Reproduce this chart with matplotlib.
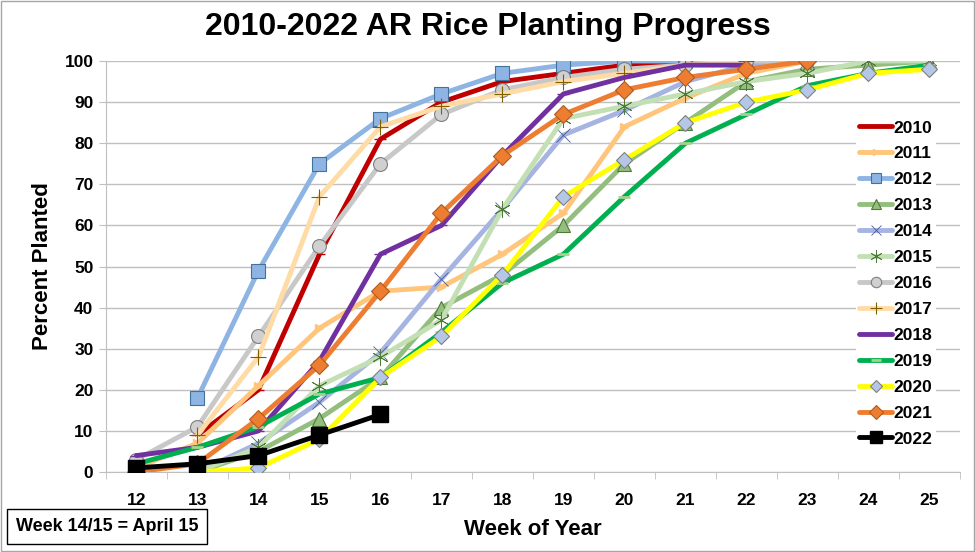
import numpy as np
import matplotlib
matplotlib.use("Agg")
import matplotlib.pyplot as plt
from matplotlib.patches import Rectangle

plt.rcParams['font.family'] = ['Liberation Sans', 'DejaVu Sans']

weeks = [12, 13, 14, 15, 16, 17, 18, 19, 20, 21, 22, 23, 24, 25]
nan = np.nan

# percent planted by week, one list per year (nan = not reported)
y2010 = [nan, 9, 20, 53, 81, 90, 95, 97, 99, 100, nan, nan, nan, nan]
y2011 = [1, 7, 21, 35, 44, 45, 53, 63, 84, 91, 97, 100, nan, nan]
y2012 = [nan, 18, 49, 75, 86, 92, 97, 99, 100, 100, nan, nan, nan, nan]
y2013 = [nan, 0, 5, 13, 23, 40, 48, 60, 75, 85, 95, 98, 99, 100]
y2014 = [nan, 0, 7, 17, 29, 47, 64, 82, 88, 95, 99, 100, nan, nan]
y2015 = [nan, 0, 6, 21, 28, 37, 64, 86, 89, 92, 95, 97, 100, 100]
y2016 = [3, 11, 33, 55, 75, 87, 93, 96, 98, 99, 100, 100, nan, nan]
y2017 = [nan, 9, 28, 67, 84, 89, 92, 95, 97, 99, 100, nan, nan, nan]
y2018 = [4, 6, 10, 27, 53, 60, 77, 92, 96, 99, 99, nan, nan, nan]
y2019 = [2, 6, 11, 19, 23, 34, 46, 53, 67, 80, 87, 94, 97, 99]
y2020 = [nan, 0, 1, 8, 23, 33, 48, 67, 76, 85, 90, 93, 97, 98]
y2021 = [0, 2, 13, 26, 44, 63, 77, 87, 93, 96, 98, 100, nan, nan]
y2022 = [1, 2, 4, 9, 14, nan, nan, nan, nan, nan, nan, nan, nan, nan]

series = [
    ('2010', y2010, dict(color='#C00000', marker='_', ms=9, mec='#C00000')),
    ('2011', y2011, dict(color='#FFC57A', marker='>', ms=6, mfc='#FFC57A', mec='#FFC57A')),
    ('2012', y2012, dict(color='#8EB4E3', marker='s', ms=10, mfc='#8EB4E3', mec='#41719C', mew=0.8)),
    ('2013', y2013, dict(color='#93BE7D', marker='^', ms=10, mfc='#93BE7D', mec='#4E7A3A', mew=0.8)),
    ('2014', y2014, dict(color='#A5B4E0', marker='x', ms=10, mec='#4A5A9A', mew=0.6)),
    ('2015', y2015, dict(color='#C3E0B4', marker=(6, 2, 0), ms=12, mec='#4E7A3A', mew=0.6)),
    ('2016', y2016, dict(color='#C8C8C8', marker='o', ms=10, mfc='#D0D0D0', mec='#7F7F7F', mew=0.8)),
    ('2017', y2017, dict(color='#FFDBA6', marker='+', ms=11, mec='#7F6000', mew=0.8)),
    ('2018', y2018, dict(color='#7030A0', marker='_', ms=8, mec='#7030A0')),
    ('2019', y2019, dict(color='#00B050', marker='_', ms=9, mec='#A9D18E', mew=2)),
    ('2020', y2020, dict(color='#FFFF00', marker='D', ms=8, mfc='#B4C7E7', mec='#7F7F7F', mew=0.8)),
    ('2021', y2021, dict(color='#ED7D31', marker='D', ms=9, mfc='#ED7D31', mec='#AE5A21', mew=0.8)),
    ('2022', y2022, dict(color='#000000', marker='s', ms=11, mfc='#000000', mec='#000000')),
]

fig = plt.figure(figsize=(9.75, 5.52), dpi=100)
ax = fig.add_axes([0.1087, 0.1449, 0.8759, 0.7446])

x = np.arange(len(weeks))
for i, (name, vals, style) in enumerate(series):
    ax.plot(x, vals, lw=3.5, label=name, zorder=3 + i, solid_capstyle='round', **style)

ax.set_xlim(-0.5, len(weeks) - 0.5)
ax.set_ylim(0, 100)
ax.set_xticks(x)
ax.set_xticklabels([str(w) for w in weeks])
ax.set_xticks(np.arange(-0.5, len(weeks), 1), minor=True)
ax.tick_params(axis='x', which='major', length=0, pad=15)
ax.tick_params(axis='x', which='minor', length=5, color='#BFBFBF', direction='out')
ax.set_yticks(np.arange(0, 101, 10))
ax.tick_params(axis='y', length=5, color='#BFBFBF', pad=4)
for lab in ax.get_xticklabels() + ax.get_yticklabels():
    lab.set_fontsize(12.5)
    lab.set_fontweight('bold')

ax.grid(axis='y', color='#BFBFBF', lw=1)
ax.set_axisbelow(True)
for side in ['top', 'right']:
    ax.spines[side].set_visible(False)
for side in ['left', 'bottom']:
    ax.spines[side].set_color('#BFBFBF')

ax.set_xlabel('Week of Year', fontsize=16, fontweight='bold', labelpad=8)
ax.set_ylabel('Percent Planted', fontsize=16, fontweight='bold', labelpad=8)
fig.suptitle('2010-2022 AR Rice Planting Progress', fontsize=23, fontweight='bold', y=0.978)

leg = ax.legend(loc='upper left', bbox_to_anchor=(0.868, 0.885), frameon=True, facecolor='white',
                edgecolor='none', framealpha=1, prop={'weight': 'bold', 'size': 12.5},
                handlelength=1.9, handletextpad=0.05, labelspacing=0.62, borderpad=0.2,
                markerscale=0.75)

fig.text(0.016, 0.046, 'Week 14/15 = April 15', fontsize=13, fontweight='bold', va='center',
         bbox=dict(boxstyle='square,pad=0.5', fc='white', ec='black', lw=1))

fig.patches.append(Rectangle((0.001, 0.001), 0.998, 0.998, transform=fig.transFigure,
                             fill=False, ec='#A6A6A6', lw=1))

fig.savefig('out.png', dpi=100)
